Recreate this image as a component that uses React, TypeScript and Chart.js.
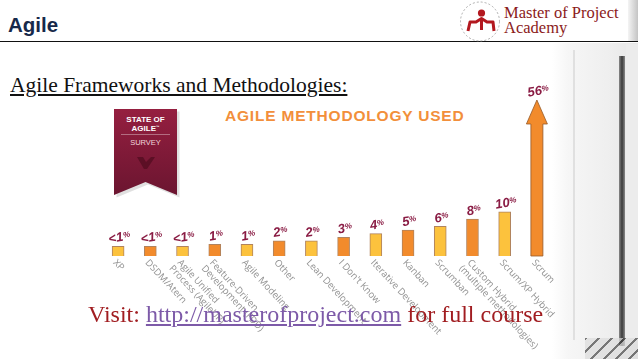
import React, { useEffect, useRef } from "react";
import { Chart, registerables } from "chart.js";

Chart.register(...registerables);

// ---- data ----
const categories: string[] = [
  "XP",
  "DSDM/Atern",
  "Agile Unified\nProcess (AgileUP)",
  "Feature-Driven\nDevelopment (FDD)",
  "Agile Modeling",
  "Other",
  "Lean Development",
  "I Don't Know",
  "Iterative Development",
  "Kanban",
  "Scrumban",
  "Custom Hybrid\n(multiple methodologies)",
  "Scrum/XP Hybrid",
  "Scrum",
];
const values: number[] = [0.5, 0.5, 0.5, 1, 1, 2, 2, 3, 4, 5, 6, 8, 10, 56];
const valueLabels: string[] = ["<1", "<1", "<1", "1", "1", "2", "2", "3", "4", "5", "6", "8", "10", "56"];
const barColors: string[] = [
  "#fcc23d", "#f28b2c", "#fcc23d", "#f28b2c", "#fcc23d", "#f28b2c", "#fcc23d",
  "#f28b2c", "#fcc23d", "#f28b2c", "#fcc23d", "#f28b2c", "#fcc23d", "#f28b2c",
];
const arrowCategory = "Scrum";
const Y_MIN = -2.2;
const Y_MAX = 41;

const LABEL_COLOR = "#8a1c44";
const TICK_COLOR = "#929292";

const slidePlugin = {
  id: "slidePlugin",
  afterDatasetsDraw(chart: any) {
    const ctx = chart.ctx as CanvasRenderingContext2D;
    const meta = chart.getDatasetMeta(0);
    const ys = chart.scales.y;
    const i = categories.indexOf(arrowCategory);
    const el = meta.data[i];
    const x = el.x;
    const base = ys.getPixelForValue(Y_MIN);
    const tip = ys.getPixelForValue(Math.min(values[i], ys.max));
    const shaftHalf = 6;
    const headHalf = 10.5;
    const headLen = 24;
    ctx.save();
    ctx.beginPath();
    ctx.moveTo(x - shaftHalf, base);
    ctx.lineTo(x - shaftHalf, tip + headLen);
    ctx.lineTo(x - headHalf, tip + headLen);
    ctx.lineTo(x, tip);
    ctx.lineTo(x + headHalf, tip + headLen);
    ctx.lineTo(x + shaftHalf, tip + headLen);
    ctx.lineTo(x + shaftHalf, base);
    ctx.closePath();
    ctx.fillStyle = barColors[i];
    ctx.fill();
    ctx.strokeStyle = "rgba(150,90,40,0.8)";
    ctx.lineWidth = 1;
    ctx.stroke();
    ctx.restore();
  },
  afterDraw(chart: any) {
    const ctx = chart.ctx as CanvasRenderingContext2D;
    const meta = chart.getDatasetMeta(0);
    const ys = chart.scales.y;
    const xs = chart.scales.x;
    // value labels
    for (let i = 0; i < values.length; i++) {
      const el = meta.data[i];
      const top = ys.getPixelForValue(Math.min(values[i], ys.max));
      const cx = el.x + 2;
      const cy = top - 5;
      ctx.save();
      ctx.translate(cx, cy);
      ctx.rotate((-10 * Math.PI) / 180);
      const numFont = "italic bold 13px 'Liberation Sans', sans-serif";
      const pctFont = "italic bold 8px 'Liberation Sans', sans-serif";
      ctx.font = numFont;
      const wn = ctx.measureText(valueLabels[i]).width;
      ctx.font = pctFont;
      const wp = ctx.measureText("%").width;
      const total = wn + wp;
      ctx.fillStyle = LABEL_COLOR;
      ctx.textBaseline = "alphabetic";
      ctx.textAlign = "left";
      ctx.font = numFont;
      ctx.fillText(valueLabels[i], -total / 2, 0);
      ctx.font = pctFont;
      ctx.fillText("%", -total / 2 + wn, -3);
      ctx.restore();
    }
    // category labels, rotated downward
    for (let i = 0; i < categories.length; i++) {
      const x = xs.getPixelForValue(i);
      const lines = categories[i].split("\n");
      ctx.save();
      ctx.translate(x, 258);
      ctx.rotate((47 * Math.PI) / 180);
      ctx.font = "9.5px 'Open Sans', sans-serif";
      ctx.fillStyle = TICK_COLOR;
      ctx.textAlign = "left";
      ctx.textBaseline = "top";
      lines.forEach((ln, j) => ctx.fillText(ln, -j * 1.5, j * 10));
      ctx.restore();
    }
  },
};

function BarChart() {
  const ref = useRef<HTMLCanvasElement | null>(null);
  useEffect(() => {
    if (!ref.current) return;
    const chart = new Chart(ref.current, {
      type: "bar",
      data: {
        labels: categories,
        datasets: [
          {
            data: values,
            base: Y_MIN,
            backgroundColor: barColors.map((c, i) => (categories[i] === arrowCategory ? "rgba(0,0,0,0)" : c)),
            borderColor: categories.map((c) => (c === arrowCategory ? "rgba(0,0,0,0)" : "rgba(150,90,40,0.75)")),
            borderWidth: 1,
            barThickness: 12,
          } as any,
        ],
      },
      options: {
        responsive: false,
        animation: false,
        events: [],
        layout: { padding: { left: 102, right: 85, top: 100, bottom: 103 } },
        scales: {
          x: { display: false, offset: true },
          y: { display: false, min: Y_MIN, max: Y_MAX },
        },
        plugins: { legend: { display: false }, tooltip: { enabled: false } },
      },
      plugins: [slidePlugin],
    });
    return () => chart.destroy();
  }, []);
  return (
    <canvas
      ref={ref}
      width={638}
      height={359}
      style={{ position: "absolute", left: 0, top: 0, width: 638, height: 359, zIndex: 2 }}
    />
  );
}

export default function App() {
  const abs = (s: React.CSSProperties): React.CSSProperties => ({ position: "absolute", ...s });
  return (
    <div
      style={{
        position: "fixed",
        left: 0,
        top: 0,
        width: 638,
        height: 359,
        overflow: "hidden",
        background: "#ffffff",
        fontFamily: "'Liberation Serif', serif",
      }}
    >
      {/* right photo panel */}
      <div style={abs({ left: 552, top: 43, width: 86, height: 316, background: "linear-gradient(90deg, rgba(255,255,255,1) 0px, #f6f6f6 16px, #eeeeee 60px, #e6e6e6 86px)" })} />
      <div style={abs({ left: 573, top: 50, width: 2, height: 290, background: "#e0e0e0" })} />
      <div style={abs({ left: 619, top: 56, width: 6, height: 290, background: "linear-gradient(90deg,#8a8a8a,#3a3a3a,#8a8a8a)" })} />
      <div style={abs({ left: 626, top: 44, width: 12, height: 300, background: "#ececec" })} />
      <div style={abs({ left: 628, top: 0, width: 10, height: 41, background: "linear-gradient(90deg,#f4f4f4,#c4c4c4)" })} />
      <div style={abs({ left: 585, top: 338, width: 53, height: 21, background: "repeating-linear-gradient(135deg, #444 0px, #444 2px, #dcdcdc 2px, #dcdcdc 9px)", opacity: 0.7 })} />

      {/* header */}
      <div style={abs({ left: 8, top: 14, fontFamily: "'Liberation Sans', Arial, sans-serif", fontWeight: 700, fontSize: 20.5, color: "#17294a", lineHeight: "22px" })}>
        Agile
      </div>
      <div style={abs({ left: 0, top: 40.5, width: 638, height: 1.5, background: "#111" })} />

      {/* logo */}
      <svg style={abs({ left: 456, top: 0 })} width={50} height={44} viewBox="0 0 50 44">
        <circle cx={24} cy={21.5} r={19.5} fill="none" stroke="#9a9a9a" strokeWidth={0.8} strokeDasharray="2 2" />
        <circle cx={25.5} cy={13} r={3.6} fill="#b3181f" />
        <path d="M12 31 L14 22 L20 22 L25.5 18.5 L31 22 L37 22 L38 31" fill="none" stroke="#b3181f" strokeWidth={3} strokeLinejoin="round" />
        <path d="M25.5 19 L25.5 30" stroke="#b3181f" strokeWidth={3} />
      </svg>
      <div style={abs({ left: 504, top: 5, fontSize: 16.5, lineHeight: "15px", color: "#8b1a1a", whiteSpace: "nowrap" })}>
        Master of Project
        <br />
        Academy
      </div>

      {/* subtitle */}
      <div style={abs({ left: 10, top: 73, fontSize: 21.5, lineHeight: "25px", color: "#111", textDecoration: "underline", whiteSpace: "nowrap" })}>
        Agile Frameworks and Methodologies:
      </div>

      {/* badge */}
      <svg style={abs({ left: 110, top: 105 })} width={72} height={95} viewBox="0 0 72 95">
        <defs>
          <linearGradient id="rib" x1="0" y1="0" x2="0" y2="1">
            <stop offset="0" stopColor="#951f40" />
            <stop offset="1" stopColor="#6b1530" />
          </linearGradient>
        </defs>
        <path d="M5 5 H68 V91 L36.5 78 L5 91 Z" fill="rgba(0,0,0,0.12)" transform="translate(1.5,1.5)" />
        <path d="M4 4 H67 V90 L35.5 77 L4 90 Z" fill="url(#rib)" />
        <text x={35.5} y={17} textAnchor="middle" fontFamily="'Liberation Sans', Arial, sans-serif" fontWeight={700} fontSize={8} fill="#ffffff">STATE OF</text>
        <text x={35.5} y={26} textAnchor="middle" fontFamily="'Liberation Sans', Arial, sans-serif" fontWeight={700} fontSize={8} fill="#ffffff">AGILE<tspan fontSize={3.5} dy={-3.5}>™</tspan></text>
        <line x1={11} y1={29.5} x2={60} y2={29.5} stroke="rgba(255,255,255,0.45)" strokeWidth={0.8} />
        <text x={35.5} y={40} textAnchor="middle" fontFamily="'Liberation Sans', Arial, sans-serif" fontSize={7.5} fill="#f1d6dd">SURVEY</text>
        <path d="M27 52 L33 52 L36 57 L41 52 L45 52 L37 64 L34 64 Z" fill="#5c0f25" />
      </svg>

      {/* chart title */}
      <div style={abs({ left: 225, top: 107, fontFamily: "'Liberation Sans', Arial, sans-serif", fontWeight: 700, fontSize: 15.5, letterSpacing: 0.8, color: "#f28f3b", whiteSpace: "nowrap", lineHeight: "18px" })}>
        AGILE METHODOLOGY USED
      </div>

      <BarChart />

      {/* footer */}
      <div style={abs({ left: 88, top: 300, fontSize: 24, lineHeight: "28px", color: "#a11d21", whiteSpace: "nowrap", zIndex: 3 })}>
        Visit: <span style={{ color: "#7d5aa8", textDecoration: "underline" }}>http://masterofproject.com</span> for full course
      </div>
    </div>
  );
}
